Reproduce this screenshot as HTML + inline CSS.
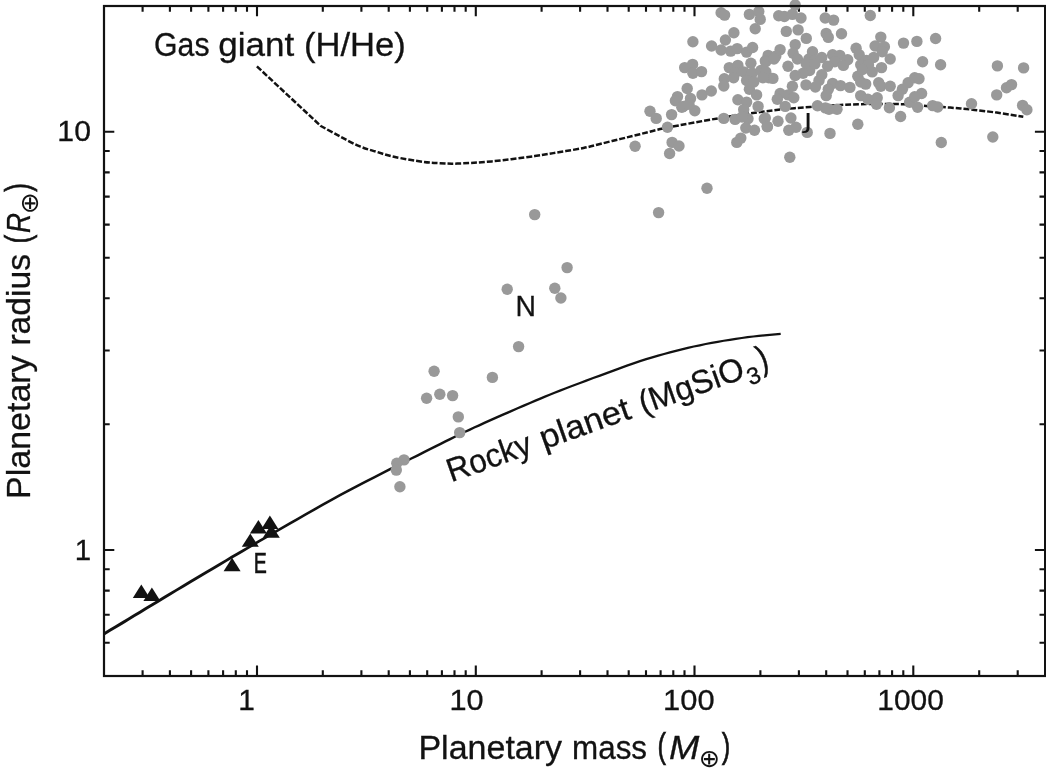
<!DOCTYPE html>
<html lang="en"><head><meta charset="utf-8">
<title>Planetary mass-radius diagram</title>
<style>
html,body{margin:0;padding:0;background:#fff;}
body{width:1046px;height:779px;overflow:hidden;}
svg{display:block;}
text{font-family:"Liberation Sans", "DejaVu Sans", sans-serif;fill:#121212;stroke:#121212;stroke-width:0.3px;}
.sym{font-family:"DejaVu Sans","Liberation Sans",sans-serif;stroke:none;}
</style></head><body>
<svg width="1046" height="779" viewBox="0 0 1046 779">
<rect x="0" y="0" width="1046" height="779" fill="#ffffff"/>
<path d="M142.6 675.9 v-5.7 M142.6 6.0 v5.7 M169.9 675.9 v-5.7 M169.9 6.0 v5.7 M191.1 675.9 v-5.7 M191.1 6.0 v5.7 M208.4 675.9 v-5.7 M208.4 6.0 v5.7 M223.1 675.9 v-5.7 M223.1 6.0 v5.7 M235.8 675.9 v-5.7 M235.8 6.0 v5.7 M247.0 675.9 v-5.7 M247.0 6.0 v5.7 M257.0 675.9 v-10.3 M257.0 6.0 v10.3 M322.8 675.9 v-5.7 M322.8 6.0 v5.7 M361.4 675.9 v-5.7 M361.4 6.0 v5.7 M388.7 675.9 v-5.7 M388.7 6.0 v5.7 M409.9 675.9 v-5.7 M409.9 6.0 v5.7 M427.2 675.9 v-5.7 M427.2 6.0 v5.7 M441.9 675.9 v-5.7 M441.9 6.0 v5.7 M454.5 675.9 v-5.7 M454.5 6.0 v5.7 M465.7 675.9 v-5.7 M465.7 6.0 v5.7 M475.8 675.9 v-10.3 M475.8 6.0 v10.3 M541.6 675.9 v-5.7 M541.6 6.0 v5.7 M580.1 675.9 v-5.7 M580.1 6.0 v5.7 M607.5 675.9 v-5.7 M607.5 6.0 v5.7 M628.7 675.9 v-5.7 M628.7 6.0 v5.7 M646.0 675.9 v-5.7 M646.0 6.0 v5.7 M660.6 675.9 v-5.7 M660.6 6.0 v5.7 M673.3 675.9 v-5.7 M673.3 6.0 v5.7 M684.5 675.9 v-5.7 M684.5 6.0 v5.7 M694.5 675.9 v-10.3 M694.5 6.0 v10.3 M760.4 675.9 v-5.7 M760.4 6.0 v5.7 M798.9 675.9 v-5.7 M798.9 6.0 v5.7 M826.2 675.9 v-5.7 M826.2 6.0 v5.7 M847.5 675.9 v-5.7 M847.5 6.0 v5.7 M864.8 675.9 v-5.7 M864.8 6.0 v5.7 M879.4 675.9 v-5.7 M879.4 6.0 v5.7 M892.1 675.9 v-5.7 M892.1 6.0 v5.7 M903.3 675.9 v-5.7 M903.3 6.0 v5.7 M913.3 675.9 v-10.3 M913.3 6.0 v10.3 M979.2 675.9 v-5.7 M979.2 6.0 v5.7 M1017.7 675.9 v-5.7 M1017.7 6.0 v5.7 M104.0 642.8 h5.7 M1045.2 642.8 h-5.7 M104.0 614.8 h5.7 M1045.2 614.8 h-5.7 M104.0 590.6 h5.7 M1045.2 590.6 h-5.7 M104.0 569.2 h5.7 M1045.2 569.2 h-5.7 M104.0 550.0 h10.3 M1045.2 550.0 h-10.3 M104.0 424.2 h5.7 M1045.2 424.2 h-5.7 M104.0 350.5 h5.7 M1045.2 350.5 h-5.7 M104.0 298.3 h5.7 M1045.2 298.3 h-5.7 M104.0 257.7 h5.7 M1045.2 257.7 h-5.7 M104.0 224.6 h5.7 M1045.2 224.6 h-5.7 M104.0 196.6 h5.7 M1045.2 196.6 h-5.7 M104.0 172.4 h5.7 M1045.2 172.4 h-5.7 M104.0 151.0 h5.7 M1045.2 151.0 h-5.7 M104.0 131.8 h10.3 M1045.2 131.8 h-10.3" fill="none" stroke="#121212" stroke-width="2.1"/>
<path d="M104.7 635.3 L110.7 631.6 L116.7 628.0 L122.7 624.4 L128.7 620.8 L134.7 617.1 L140.8 613.5 L146.7 609.8 L152.6 606.3 L158.5 602.7 L164.6 599.0 L170.8 595.3 L177.2 591.3 L184.2 587.2 L191.6 582.7 L199.2 578.2 L206.7 573.7 L214.0 569.4 L220.7 565.4 L226.8 561.8 L232.3 558.5 L237.6 555.4 L242.8 552.4 L248.1 549.3 L253.7 546.0 L259.5 542.6 L265.2 539.2 L271.1 535.8 L277.2 532.3 L283.7 528.5 L290.7 524.5 L298.2 520.2 L306.3 515.6 L314.8 510.7 L323.5 505.8 L332.1 501.0 L340.6 496.3 L349.1 491.8 L357.7 487.3 L366.3 482.8 L374.7 478.5 L382.9 474.3 L390.7 470.3 L398.0 466.6 L405.1 463.0 L411.9 459.6 L418.4 456.4 L424.6 453.3 L430.5 450.3 L436.1 447.5 L441.2 444.9 L446.0 442.5 L450.7 440.2 L455.4 437.8 L460.2 435.5 L465.1 433.1 L469.9 430.9 L474.7 428.6 L479.7 426.4 L484.9 424.0 L490.5 421.5 L496.7 418.7 L503.5 415.7 L510.5 412.7 L517.5 409.6 L524.3 406.7 L530.5 404.1 L535.9 401.7 L540.8 399.7 L545.4 397.7 L550.1 395.8 L555.0 393.8 L560.4 391.7 L566.5 389.3 L573.0 386.8 L579.8 384.3 L586.7 381.7 L593.6 379.1 L600.4 376.7 L607.1 374.2 L613.9 371.7 L620.6 369.2 L627.3 366.7 L633.9 364.4 L640.3 362.3 L646.6 360.3 L652.6 358.4 L658.5 356.7 L664.4 355.0 L670.3 353.4 L676.2 351.9 L682.1 350.4 L688.1 349.0 L694.0 347.6 L700.0 346.4 L705.9 345.1 L711.9 344.0 L717.9 342.9 L723.9 341.8 L730.0 340.9 L736.0 339.9 L741.9 339.1 L747.7 338.3 L753.4 337.6 L759.0 337.0 L764.4 336.5 L769.9 336.0 L775.3 335.5 L780.8 335.0 L780.6 332.8 L775.1 333.3 L769.7 333.8 L764.2 334.3 L758.7 334.8 L753.2 335.4 L747.5 336.1 L741.6 336.9 L735.7 337.7 L729.6 338.7 L723.6 339.7 L717.5 340.7 L711.5 341.8 L705.5 343.0 L699.5 344.2 L693.6 345.5 L687.6 346.8 L681.6 348.2 L675.6 349.7 L669.7 351.3 L663.8 352.9 L657.9 354.5 L652.0 356.3 L645.9 358.1 L639.7 360.1 L633.2 362.3 L626.6 364.6 L619.9 367.1 L613.1 369.6 L606.3 372.1 L599.6 374.5 L592.8 377.0 L585.9 379.6 L579.0 382.2 L572.2 384.7 L565.7 387.2 L559.6 389.5 L554.1 391.7 L549.2 393.7 L544.6 395.6 L539.9 397.5 L535.0 399.6 L529.5 401.9 L523.3 404.6 L516.6 407.5 L509.6 410.5 L502.5 413.6 L495.7 416.6 L489.5 419.3 L483.9 421.8 L478.7 424.2 L473.7 426.5 L468.9 428.7 L464.1 431.0 L459.2 433.3 L454.3 435.7 L449.6 438.0 L444.9 440.3 L440.1 442.8 L435.0 445.3 L429.5 448.1 L423.5 451.1 L417.3 454.2 L410.8 457.4 L404.0 460.8 L396.9 464.4 L389.5 468.1 L381.8 472.1 L373.6 476.2 L365.1 480.6 L356.5 485.0 L347.9 489.6 L339.4 494.1 L330.9 498.7 L322.2 503.6 L313.5 508.5 L305.1 513.3 L296.9 517.9 L289.3 522.3 L282.4 526.2 L275.9 530.0 L269.8 533.5 L263.9 536.9 L258.1 540.3 L252.3 543.6 L246.7 546.9 L241.4 550.0 L236.2 553.0 L230.9 556.1 L225.4 559.4 L219.3 563.0 L212.6 567.0 L205.3 571.3 L197.7 575.8 L190.1 580.3 L182.7 584.7 L175.8 588.9 L169.3 592.8 L163.0 596.5 L157.0 600.2 L151.1 603.7 L145.2 607.3 L139.2 610.9 L133.2 614.6 L127.2 618.2 L121.2 621.8 L115.1 625.5 L109.1 629.1 L103.1 632.7 Z" fill="#121212"/>
<path d="M256.9 66.4 L320.8 126.0  C324.0 127.7 333.6 133.0 340.0 136.4 C346.4 139.8 353.2 143.6 359.3 146.2 C365.4 148.8 370.7 150.0 376.5 151.8 C382.3 153.6 386.3 155.1 394.0 156.8 C401.7 158.5 415.2 160.7 422.9 161.8 C430.6 162.9 434.3 162.9 440.0 163.2 C445.7 163.5 448.7 163.9 457.3 163.6 C465.9 163.3 478.8 162.7 491.7 161.4 C504.6 160.2 523.3 157.7 534.7 156.1 C546.1 154.5 551.9 153.3 560.0 152.0 C568.1 150.7 576.8 149.3 583.5 148.0 C590.2 146.7 593.8 145.5 600.0 144.0 C606.2 142.5 614.0 140.5 620.7 138.9 C627.4 137.3 632.2 136.1 640.0 134.2 C647.8 132.3 654.5 130.2 667.5 127.6 C680.5 125.0 702.4 121.0 717.8 118.4 C733.2 115.8 747.2 113.7 760.0 112.0 C772.8 110.3 782.5 109.3 794.5 108.2 C806.5 107.1 820.9 106.3 831.9 105.6 C842.9 104.9 848.7 104.4 860.7 104.2 C872.7 104.0 892.9 103.9 903.8 104.2 C914.7 104.5 916.7 105.2 926.2 105.9 C935.7 106.6 949.0 107.4 960.7 108.5 C972.5 109.6 986.3 111.2 996.7 112.6 C1007.1 114.0 1018.9 116.1 1023.3 116.8" fill="none" stroke="#121212" stroke-width="2.5" stroke-dasharray="5.9 2.0" stroke-linejoin="round"/>
<path d="M141.3 584.6 L149.8 598.0 L132.8 598.0 Z" fill="#121212"/>
<path d="M151.9 587.6 L160.4 601.0 L143.4 601.0 Z" fill="#121212"/>
<path d="M232.1 557.8 L240.6 571.2 L223.6 571.2 Z" fill="#121212"/>
<path d="M250.3 533.4 L258.8 546.8 L241.8 546.8 Z" fill="#121212"/>
<path d="M258.4 520.0 L266.9 533.4 L249.9 533.4 Z" fill="#121212"/>
<path d="M271.3 524.4 L279.8 537.8 L262.8 537.8 Z" fill="#121212"/>
<path d="M269.9 515.6 L278.4 529.0 L261.4 529.0 Z" fill="#121212"/>
<g fill="#999999">
<circle cx="426.6" cy="398.2" r="5.7"/>
<circle cx="439.8" cy="394.3" r="5.7"/>
<circle cx="452.6" cy="395.6" r="5.7"/>
<circle cx="458.3" cy="416.9" r="5.7"/>
<circle cx="459.7" cy="432.6" r="5.7"/>
<circle cx="404.0" cy="459.9" r="5.7"/>
<circle cx="396.8" cy="463.3" r="5.7"/>
<circle cx="396.3" cy="470.1" r="5.7"/>
<circle cx="399.9" cy="486.8" r="5.7"/>
<circle cx="534.7" cy="214.6" r="5.7"/>
<circle cx="567.1" cy="267.6" r="5.7"/>
<circle cx="507.2" cy="289.3" r="5.7"/>
<circle cx="554.8" cy="288.2" r="5.7"/>
<circle cx="560.9" cy="298.0" r="5.7"/>
<circle cx="518.6" cy="346.6" r="5.7"/>
<circle cx="492.4" cy="377.4" r="5.7"/>
<circle cx="434.1" cy="371.2" r="5.7"/>
<circle cx="721.1" cy="12.7" r="5.7"/>
<circle cx="724.6" cy="15.1" r="5.7"/>
<circle cx="749.4" cy="14.4" r="5.7"/>
<circle cx="758.8" cy="11.5" r="5.7"/>
<circle cx="760.2" cy="19.4" r="5.7"/>
<circle cx="755.2" cy="28.8" r="5.7"/>
<circle cx="733.9" cy="32.8" r="5.7"/>
<circle cx="725.4" cy="40.0" r="5.7"/>
<circle cx="692.9" cy="41.7" r="5.7"/>
<circle cx="711.6" cy="46.0" r="5.7"/>
<circle cx="721.1" cy="50.0" r="5.7"/>
<circle cx="730.7" cy="51.1" r="5.7"/>
<circle cx="737.2" cy="48.6" r="5.7"/>
<circle cx="746.6" cy="52.1" r="5.7"/>
<circle cx="752.6" cy="47.5" r="5.7"/>
<circle cx="768.1" cy="55.4" r="5.7"/>
<circle cx="765.3" cy="61.1" r="5.7"/>
<circle cx="750.9" cy="63.3" r="5.7"/>
<circle cx="692.6" cy="64.4" r="5.7"/>
<circle cx="684.7" cy="67.6" r="5.7"/>
<circle cx="692.9" cy="73.3" r="5.7"/>
<circle cx="701.5" cy="71.6" r="5.7"/>
<circle cx="729.3" cy="67.6" r="5.7"/>
<circle cx="737.9" cy="65.4" r="5.7"/>
<circle cx="735.1" cy="73.3" r="5.7"/>
<circle cx="743.7" cy="71.9" r="5.7"/>
<circle cx="752.3" cy="73.3" r="5.7"/>
<circle cx="760.9" cy="70.5" r="5.7"/>
<circle cx="768.9" cy="77.7" r="5.7"/>
<circle cx="724.3" cy="78.8" r="5.7"/>
<circle cx="723.8" cy="86.0" r="5.7"/>
<circle cx="733.6" cy="77.7" r="5.7"/>
<circle cx="746.6" cy="80.5" r="5.7"/>
<circle cx="753.8" cy="82.0" r="5.7"/>
<circle cx="749.4" cy="89.2" r="5.7"/>
<circle cx="756.6" cy="94.9" r="5.7"/>
<circle cx="687.2" cy="88.5" r="5.7"/>
<circle cx="677.5" cy="96.6" r="5.7"/>
<circle cx="675.4" cy="100.7" r="5.7"/>
<circle cx="690.5" cy="98.5" r="5.7"/>
<circle cx="702.0" cy="94.9" r="5.7"/>
<circle cx="711.3" cy="91.0" r="5.7"/>
<circle cx="737.9" cy="99.7" r="5.7"/>
<circle cx="746.6" cy="102.1" r="5.7"/>
<circle cx="758.1" cy="106.4" r="5.7"/>
<circle cx="650.0" cy="111.2" r="5.7"/>
<circle cx="671.6" cy="114.6" r="5.7"/>
<circle cx="683.3" cy="106.4" r="5.7"/>
<circle cx="694.8" cy="110.7" r="5.7"/>
<circle cx="743.7" cy="109.6" r="5.7"/>
<circle cx="656.2" cy="118.4" r="5.7"/>
<circle cx="667.5" cy="127.3" r="5.7"/>
<circle cx="635.1" cy="146.3" r="5.7"/>
<circle cx="672.1" cy="142.4" r="5.7"/>
<circle cx="679.0" cy="146.0" r="5.7"/>
<circle cx="669.6" cy="153.5" r="5.7"/>
<circle cx="707.0" cy="188.2" r="5.7"/>
<circle cx="658.6" cy="212.6" r="5.7"/>
<circle cx="681.8" cy="107.2" r="5.7"/>
<circle cx="689.0" cy="104.3" r="5.7"/>
<circle cx="723.8" cy="118.4" r="5.7"/>
<circle cx="735.1" cy="119.4" r="5.7"/>
<circle cx="748.0" cy="118.7" r="5.7"/>
<circle cx="745.8" cy="128.0" r="5.7"/>
<circle cx="754.5" cy="130.2" r="5.7"/>
<circle cx="765.3" cy="118.0" r="5.7"/>
<circle cx="767.4" cy="126.6" r="5.7"/>
<circle cx="740.8" cy="138.1" r="5.7"/>
<circle cx="736.8" cy="142.4" r="5.7"/>
<circle cx="795.2" cy="5.0" r="5.7"/>
<circle cx="778.7" cy="15.8" r="5.7"/>
<circle cx="784.4" cy="16.5" r="5.7"/>
<circle cx="792.4" cy="14.4" r="5.7"/>
<circle cx="801.0" cy="18.0" r="5.7"/>
<circle cx="786.3" cy="31.4" r="5.7"/>
<circle cx="798.1" cy="29.9" r="5.7"/>
<circle cx="806.3" cy="38.4" r="5.7"/>
<circle cx="825.2" cy="18.0" r="5.7"/>
<circle cx="833.6" cy="20.1" r="5.7"/>
<circle cx="826.2" cy="33.4" r="5.7"/>
<circle cx="828.3" cy="37.4" r="5.7"/>
<circle cx="841.5" cy="33.8" r="5.7"/>
<circle cx="870.3" cy="15.5" r="5.7"/>
<circle cx="880.8" cy="37.1" r="5.7"/>
<circle cx="903.5" cy="43.1" r="5.7"/>
<circle cx="875.1" cy="46.0" r="5.7"/>
<circle cx="884.4" cy="46.7" r="5.7"/>
<circle cx="856.1" cy="48.2" r="5.7"/>
<circle cx="890.2" cy="59.0" r="5.7"/>
<circle cx="881.5" cy="67.6" r="5.7"/>
<circle cx="872.2" cy="71.9" r="5.7"/>
<circle cx="859.2" cy="54.7" r="5.7"/>
<circle cx="866.4" cy="60.4" r="5.7"/>
<circle cx="873.6" cy="57.5" r="5.7"/>
<circle cx="882.2" cy="51.8" r="5.7"/>
<circle cx="860.7" cy="64.7" r="5.7"/>
<circle cx="857.8" cy="76.2" r="5.7"/>
<circle cx="860.7" cy="82.0" r="5.7"/>
<circle cx="865.7" cy="84.1" r="5.7"/>
<circle cx="878.7" cy="82.7" r="5.7"/>
<circle cx="880.8" cy="86.3" r="5.7"/>
<circle cx="890.2" cy="86.3" r="5.7"/>
<circle cx="908.1" cy="82.7" r="5.7"/>
<circle cx="902.4" cy="89.2" r="5.7"/>
<circle cx="898.1" cy="95.6" r="5.7"/>
<circle cx="860.7" cy="95.6" r="5.7"/>
<circle cx="867.9" cy="99.2" r="5.7"/>
<circle cx="877.2" cy="97.8" r="5.7"/>
<circle cx="876.5" cy="104.3" r="5.7"/>
<circle cx="889.4" cy="107.7" r="5.7"/>
<circle cx="909.6" cy="102.3" r="5.7"/>
<circle cx="780.1" cy="49.6" r="5.7"/>
<circle cx="775.8" cy="56.1" r="5.7"/>
<circle cx="765.8" cy="61.8" r="5.7"/>
<circle cx="795.2" cy="44.6" r="5.7"/>
<circle cx="793.1" cy="53.2" r="5.7"/>
<circle cx="797.4" cy="59.0" r="5.7"/>
<circle cx="788.0" cy="66.2" r="5.7"/>
<circle cx="812.5" cy="51.8" r="5.7"/>
<circle cx="808.9" cy="59.0" r="5.7"/>
<circle cx="814.7" cy="60.4" r="5.7"/>
<circle cx="821.8" cy="57.5" r="5.7"/>
<circle cx="832.6" cy="54.7" r="5.7"/>
<circle cx="839.8" cy="55.4" r="5.7"/>
<circle cx="834.8" cy="61.8" r="5.7"/>
<circle cx="847.7" cy="59.7" r="5.7"/>
<circle cx="843.4" cy="65.4" r="5.7"/>
<circle cx="827.6" cy="66.2" r="5.7"/>
<circle cx="809.6" cy="70.5" r="5.7"/>
<circle cx="803.1" cy="73.3" r="5.7"/>
<circle cx="795.2" cy="75.5" r="5.7"/>
<circle cx="765.8" cy="71.9" r="5.7"/>
<circle cx="772.9" cy="78.4" r="5.7"/>
<circle cx="762.9" cy="77.7" r="5.7"/>
<circle cx="821.8" cy="74.8" r="5.7"/>
<circle cx="819.0" cy="80.5" r="5.7"/>
<circle cx="806.0" cy="84.9" r="5.7"/>
<circle cx="815.4" cy="87.0" r="5.7"/>
<circle cx="792.4" cy="86.3" r="5.7"/>
<circle cx="832.6" cy="83.4" r="5.7"/>
<circle cx="840.5" cy="85.6" r="5.7"/>
<circle cx="849.9" cy="87.4" r="5.7"/>
<circle cx="828.3" cy="89.2" r="5.7"/>
<circle cx="826.2" cy="95.6" r="5.7"/>
<circle cx="780.1" cy="93.5" r="5.7"/>
<circle cx="777.3" cy="99.2" r="5.7"/>
<circle cx="788.0" cy="94.9" r="5.7"/>
<circle cx="793.8" cy="97.8" r="5.7"/>
<circle cx="785.2" cy="106.4" r="5.7"/>
<circle cx="817.5" cy="105.8" r="5.7"/>
<circle cx="829.0" cy="109.3" r="5.7"/>
<circle cx="837.0" cy="109.3" r="5.7"/>
<circle cx="806.2" cy="63.4" r="5.7"/>
<circle cx="814.9" cy="63.9" r="5.7"/>
<circle cx="742.0" cy="117.0" r="5.7"/>
<circle cx="774.0" cy="59.0" r="5.7"/>
<circle cx="868.5" cy="64.9" r="5.7"/>
<circle cx="862.5" cy="69.5" r="5.7"/>
<circle cx="790.9" cy="118.0" r="5.7"/>
<circle cx="778.0" cy="121.3" r="5.7"/>
<circle cx="764.3" cy="118.7" r="5.7"/>
<circle cx="767.2" cy="126.6" r="5.7"/>
<circle cx="788.8" cy="130.2" r="5.7"/>
<circle cx="796.0" cy="127.3" r="5.7"/>
<circle cx="807.2" cy="132.4" r="5.7"/>
<circle cx="789.8" cy="157.2" r="5.7"/>
<circle cx="830.0" cy="133.4" r="5.7"/>
<circle cx="857.8" cy="124.2" r="5.7"/>
<circle cx="900.6" cy="116.5" r="5.7"/>
<circle cx="825.4" cy="107.9" r="5.7"/>
<circle cx="916.9" cy="41.4" r="5.7"/>
<circle cx="935.6" cy="38.5" r="5.7"/>
<circle cx="922.6" cy="61.8" r="5.7"/>
<circle cx="940.6" cy="64.7" r="5.7"/>
<circle cx="997.4" cy="65.9" r="5.7"/>
<circle cx="1023.6" cy="67.9" r="5.7"/>
<circle cx="914.7" cy="77.7" r="5.7"/>
<circle cx="919.0" cy="78.8" r="5.7"/>
<circle cx="921.6" cy="93.5" r="5.7"/>
<circle cx="914.7" cy="96.8" r="5.7"/>
<circle cx="917.6" cy="107.2" r="5.7"/>
<circle cx="932.7" cy="105.6" r="5.7"/>
<circle cx="937.7" cy="107.0" r="5.7"/>
<circle cx="971.5" cy="103.7" r="5.7"/>
<circle cx="996.7" cy="94.9" r="5.7"/>
<circle cx="1006.5" cy="87.7" r="5.7"/>
<circle cx="1011.5" cy="84.6" r="5.7"/>
<circle cx="1022.6" cy="105.4" r="5.7"/>
<circle cx="1026.9" cy="109.7" r="5.7"/>
<circle cx="941.3" cy="142.5" r="5.7"/>
<circle cx="992.8" cy="137.0" r="5.7"/>
</g>
<rect x="104.0" y="6.0" width="941.1" height="670.0" fill="none" stroke="#121212" stroke-width="2.2"/>
<text transform="translate(238.36 709.70) scale(1.0235 1)" font-size="29.20">1</text>
<text transform="translate(449.40 709.70) scale(1.0514 1)" font-size="29.20">10</text>
<text transform="translate(663.08 709.70) scale(1.0571 1)" font-size="29.20">100</text>
<text transform="translate(877.26 709.70) scale(1.0250 1)" font-size="29.20">1000</text>
<text transform="translate(57.34 141.00) scale(1.0342 1)" font-size="29.20">10</text>
<text transform="translate(74.79 560.00) scale(1.0077 1)" font-size="29.20">1</text>
<text transform="translate(154.09 56.00) scale(0.9160 1)" font-size="33.00">Gas</text>
<text transform="translate(218.20 56.00) scale(1.0610 1)" font-size="33.00">giant</text>
<text transform="translate(303.92 56.00) scale(1.0491 1)" font-size="33.00">(H/He)</text>
<text transform="translate(253.83 572.50) scale(0.6770 1)" font-size="29.00" style="stroke-width:0.5px;vector-effect:non-scaling-stroke">E</text>
<text transform="translate(515.53 316.10) scale(0.9765 1)" font-size="29.00">N</text>
<text transform="translate(803.82 129.10) scale(1.3406 1)" font-size="21.94" class="sym" style="stroke-width:0.1px">J</text>
<text transform="translate(418.38 758.50) scale(1.0313 1)" font-size="33.00">Planetary</text>
<text transform="translate(572.06 758.50) scale(0.9514 1)" font-size="33.00">mass</text>
<text transform="translate(657.46 758.30) scale(0.7332 1)" font-size="35.00" style="stroke-width:0.6px;vector-effect:non-scaling-stroke">(</text>
<text transform="translate(669.01 758.50) scale(1.1030 1)" font-size="33.00" font-style="italic">M</text>
<text transform="translate(698.71 766.80) scale(1.0182 1)" font-size="25.00" class="sym">&#8853;</text>
<text transform="translate(721.67 758.30) scale(0.7302 1)" font-size="35.00" style="stroke-width:0.6px;vector-effect:non-scaling-stroke">)</text>
<g transform="translate(29.9 496.2) rotate(-90)">
<text transform="translate(-2.72 0.00) scale(1.0299 1)" font-size="33.00">Planetary</text>
<text transform="translate(150.61 0.00) scale(1.0205 1)" font-size="33.00">radius</text>
<text transform="translate(252.62 -0.20) scale(0.7547 1)" font-size="35.00" style="stroke-width:0.6px;vector-effect:non-scaling-stroke">(</text>
<text transform="translate(263.17 0.00) scale(0.8430 1)" font-size="33.00" font-style="italic">R</text>
<text transform="translate(281.83 8.30) scale(1.0545 1)" font-size="25.00" class="sym">&#8853;</text>
<text transform="translate(304.37 -0.20) scale(0.7302 1)" font-size="35.00" style="stroke-width:0.6px;vector-effect:non-scaling-stroke">)</text>
</g>
<g transform="translate(453.6 481.4) rotate(-19.5)">
<text transform="translate(-2.53 0.00) scale(0.9569 1)" font-size="33.00">Rocky</text>
<text transform="translate(95.85 0.00) scale(1.0489 1)" font-size="33.00">planet</text>
<text transform="translate(201.06 0.00) scale(0.9797 1)" font-size="33.00">(MgSiO</text>
<text transform="translate(311.44 8.60) scale(1.0213 1)" font-size="23.50">3</text>
<text transform="translate(327.46 -1.50) scale(0.7831 1)" font-size="35.00" style="stroke-width:0.6px;vector-effect:non-scaling-stroke">)</text>
</g>
</svg>
</body></html>
